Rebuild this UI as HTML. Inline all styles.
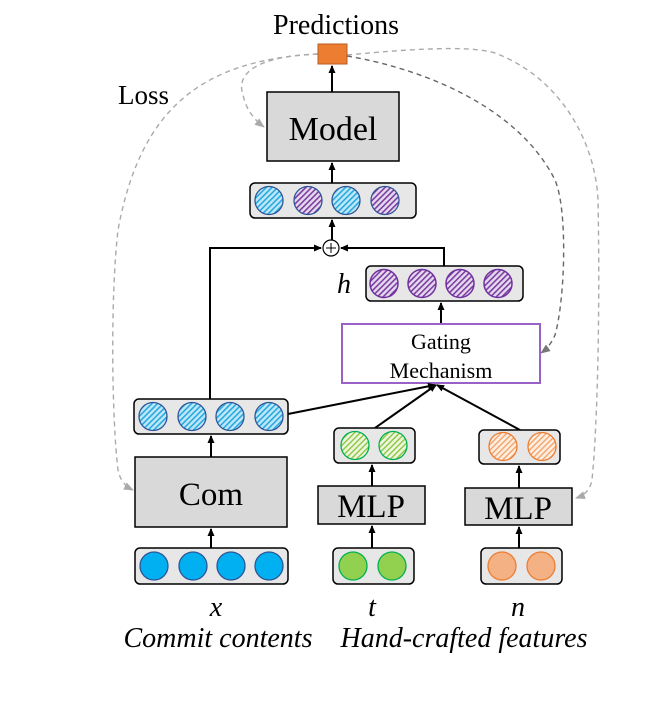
<!DOCTYPE html>
<html><head><style>html,body{margin:0;padding:0;background:#fff;}svg{display:block}</style></head><body>
<svg width="664" height="725" viewBox="0 0 664 725" xmlns="http://www.w3.org/2000/svg" font-family="'Liberation Serif', serif">
<defs>
<pattern id="pb" width="4" height="4" patternUnits="userSpaceOnUse" patternTransform="rotate(45)"><rect width="4" height="4" fill="#bfe8f8"/><rect width="1.6" height="4" fill="#29a9e0"/></pattern>
<pattern id="pp" width="4" height="4" patternUnits="userSpaceOnUse" patternTransform="rotate(45)"><rect width="4" height="4" fill="#e6d9ef"/><rect width="1.6" height="4" fill="#7b3fa0"/></pattern>
<pattern id="pg" width="4" height="4" patternUnits="userSpaceOnUse" patternTransform="rotate(45)"><rect width="4" height="4" fill="#eef6e0"/><rect width="1.4" height="4" fill="#8cc63f"/></pattern>
<pattern id="po" width="4" height="4" patternUnits="userSpaceOnUse" patternTransform="rotate(45)"><rect width="4" height="4" fill="#fdeee2"/><rect width="1.4" height="4" fill="#f4a46a"/></pattern>
<marker id="ar" markerWidth="8" markerHeight="8" refX="7" refY="4" orient="auto" markerUnits="userSpaceOnUse"><path d="M0,0.5 L8,4 L0,7.5 Z" fill="#000"/></marker>
<marker id="ag" markerWidth="10" markerHeight="10" refX="9" refY="5" orient="auto" markerUnits="userSpaceOnUse"><path d="M0,1 L10,5 L0,9 Z" fill="#aaa"/></marker>
<marker id="ad" markerWidth="10" markerHeight="10" refX="9" refY="5" orient="auto" markerUnits="userSpaceOnUse"><path d="M0,1 L10,5 L0,9 Z" fill="#777"/></marker>
</defs>

<text x="336" y="34" font-size="28" text-anchor="middle">Predictions</text>
<text x="118" y="104" font-size="27">Loss</text>

<g fill="none" stroke-dasharray="5,4" stroke-width="1.4">
<path d="M318,54 C260,56 235,72 243,95 C246,108 252,118 264,127" stroke="#aaa" marker-end="url(#ag)"/>
<path d="M318,54 C200,60 140,110 118,230 C110,300 112,420 118,470 C120,480 125,486 133,490" stroke="#aaa" marker-end="url(#ag)"/>
<path d="M347,56 C430,70 520,110 555,180 C568,210 565,300 555,335 C552,342 548,348 541,353" stroke="#666" marker-end="url(#ad)"/>
<path d="M347,55 C420,48 480,45 500,55 C560,80 595,140 598,200 C600,300 598,420 592,480 C590,490 585,495 576,498" stroke="#aaa" marker-end="url(#ag)"/>
</g>

<rect x="318" y="44" width="29" height="20" fill="#ed7d31" stroke="#b85c1f" stroke-width="1"/>
<line x1="332" y1="92" x2="332" y2="66" stroke="#000" stroke-width="2" marker-end="url(#ar)"/>

<rect x="267" y="92" width="132" height="69" fill="#d9d9d9" stroke="#000" stroke-width="1.5"/>
<text x="333" y="140" font-size="34" text-anchor="middle">Model</text>
<line x1="332" y1="183" x2="332" y2="163" stroke="#000" stroke-width="2" marker-end="url(#ar)"/>

<rect x="250" y="183" width="166" height="35" rx="5" fill="#e7e7e7" stroke="#000" stroke-width="1.5"/>
<g stroke="#2f5597" stroke-width="1.3">
<circle cx="269" cy="200.5" r="14" fill="url(#pb)"/>
<circle cx="308" cy="200.5" r="14" fill="url(#pp)"/>
<circle cx="346" cy="200.5" r="14" fill="url(#pb)"/>
<circle cx="385" cy="200.5" r="14" fill="url(#pp)"/>
</g>
<line x1="332" y1="240" x2="332" y2="220" stroke="#000" stroke-width="2" marker-end="url(#ar)"/>
<circle cx="331" cy="248" r="8" fill="#fff" stroke="#000" stroke-width="1.2"/>
<path d="M326,248 H336 M331,243 V253" stroke="#000" stroke-width="1"/>

<polyline points="210,400 210,248 321,248" fill="none" stroke="#000" stroke-width="2" marker-end="url(#ar)"/>
<polyline points="444,266 444,248 341,248" fill="none" stroke="#000" stroke-width="2" marker-end="url(#ar)"/>

<text x="337" y="293" font-size="28" font-style="italic">h</text>
<rect x="366" y="266" width="157" height="35" rx="5" fill="#e7e7e7" stroke="#000" stroke-width="1.5"/>
<g stroke="#7030a0" stroke-width="1.5">
<circle cx="384" cy="283.5" r="14" fill="url(#pp)"/>
<circle cx="422" cy="283.5" r="14" fill="url(#pp)"/>
<circle cx="460" cy="283.5" r="14" fill="url(#pp)"/>
<circle cx="498" cy="283.5" r="14" fill="url(#pp)"/>
</g>
<line x1="441" y1="324" x2="441" y2="303" stroke="#000" stroke-width="2" marker-end="url(#ar)"/>

<rect x="342" y="324" width="198" height="59" fill="#fff" stroke="#9a62c6" stroke-width="2"/>
<text x="441" y="349" font-size="22" text-anchor="middle">Gating</text>
<text x="441" y="378" font-size="22" text-anchor="middle">Mechanism</text>

<line x1="288" y1="414" x2="435" y2="385" stroke="#000" stroke-width="2" marker-end="url(#ar)"/>
<line x1="375" y1="428" x2="436" y2="385" stroke="#000" stroke-width="2" marker-end="url(#ar)"/>
<line x1="520" y1="430" x2="437" y2="385" stroke="#000" stroke-width="2" marker-end="url(#ar)"/>

<rect x="134" y="399" width="154" height="35" rx="5" fill="#e7e7e7" stroke="#000" stroke-width="1.5"/>
<g stroke="#2f5597" stroke-width="1.3">
<circle cx="153" cy="416.5" r="14" fill="url(#pb)"/>
<circle cx="192" cy="416.5" r="14" fill="url(#pb)"/>
<circle cx="230" cy="416.5" r="14" fill="url(#pb)"/>
<circle cx="269" cy="416.5" r="14" fill="url(#pb)"/>
</g>
<line x1="211" y1="457" x2="211" y2="436" stroke="#000" stroke-width="2" marker-end="url(#ar)"/>
<rect x="135" y="457" width="152" height="70" fill="#d9d9d9" stroke="#000" stroke-width="1.5"/>
<text x="211" y="505" font-size="33" text-anchor="middle">Com</text>
<line x1="211" y1="548" x2="211" y2="529" stroke="#000" stroke-width="2" marker-end="url(#ar)"/>
<rect x="135" y="548" width="153" height="36" rx="5" fill="#e7e7e7" stroke="#000" stroke-width="1.5"/>
<g stroke="#2f5597" stroke-width="1.3" fill="#00b0f0">
<circle cx="154" cy="566" r="14"/><circle cx="193" cy="566" r="14"/><circle cx="231" cy="566" r="14"/><circle cx="269" cy="566" r="14"/>
</g>

<rect x="334" y="428" width="81" height="35" rx="5" fill="#e7e7e7" stroke="#000" stroke-width="1.5"/>
<g stroke="#00b050" stroke-width="1.3">
<circle cx="355" cy="445.5" r="14" fill="url(#pg)"/><circle cx="393" cy="445.5" r="14" fill="url(#pg)"/>
</g>
<line x1="372" y1="486" x2="372" y2="465" stroke="#000" stroke-width="2" marker-end="url(#ar)"/>
<rect x="318" y="486" width="107" height="38" fill="#d9d9d9" stroke="#000" stroke-width="1.5"/>
<text x="371" y="517" font-size="33" text-anchor="middle">MLP</text>
<line x1="372" y1="548" x2="372" y2="526" stroke="#000" stroke-width="2" marker-end="url(#ar)"/>
<rect x="333" y="548" width="81" height="36" rx="5" fill="#e7e7e7" stroke="#000" stroke-width="1.5"/>
<g stroke="#00b050" stroke-width="1.3" fill="#92d050">
<circle cx="353" cy="566" r="14"/><circle cx="392" cy="566" r="14"/>
</g>

<rect x="479" y="430" width="81" height="34" rx="5" fill="#e7e7e7" stroke="#000" stroke-width="1.5"/>
<g stroke="#ed7d31" stroke-width="1.3">
<circle cx="503" cy="446.5" r="14" fill="url(#po)"/><circle cx="542" cy="446.5" r="14" fill="url(#po)"/>
</g>
<line x1="519" y1="488" x2="519" y2="466" stroke="#000" stroke-width="2" marker-end="url(#ar)"/>
<rect x="465" y="488" width="107" height="37" fill="#d9d9d9" stroke="#000" stroke-width="1.5"/>
<text x="518" y="519" font-size="33" text-anchor="middle">MLP</text>
<line x1="519" y1="548" x2="519" y2="527" stroke="#000" stroke-width="2" marker-end="url(#ar)"/>
<rect x="481" y="548" width="81" height="36" rx="5" fill="#e7e7e7" stroke="#000" stroke-width="1.5"/>
<g stroke="#ed7d31" stroke-width="1.3" fill="#f4b183">
<circle cx="502" cy="566" r="14"/><circle cx="541" cy="566" r="14"/>
</g>

<g font-style="italic" font-size="28" text-anchor="middle">
<text x="216" y="616">x</text>
<text x="372" y="616">t</text>
<text x="518" y="616">n</text>
<text x="218" y="647">Commit contents</text>
<text x="464" y="647">Hand-crafted features</text>
</g>
</svg>
</body></html>
